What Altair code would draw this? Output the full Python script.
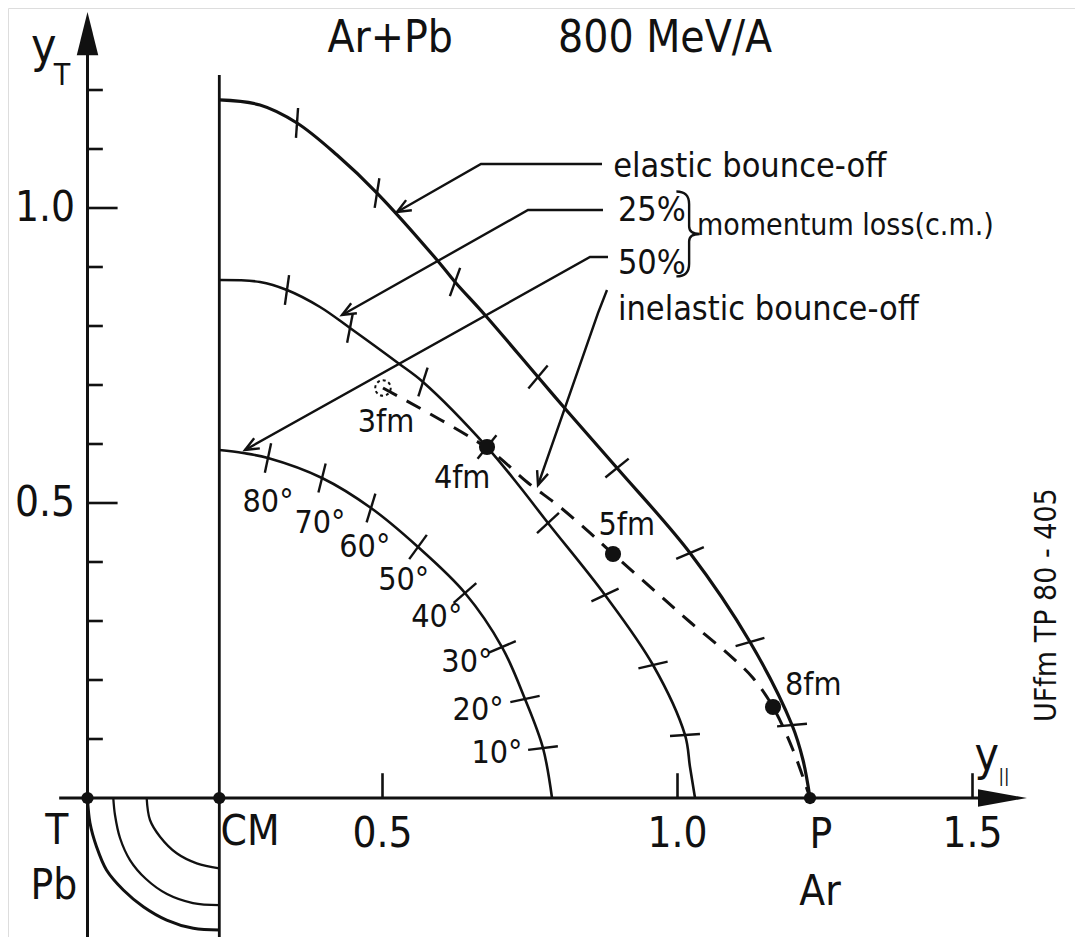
import math
import altair as alt
import pandas as pd

FONT = "'DejaVu Sans Condensed', 'DejaVu Sans', sans-serif"

# ---------------- data (rapidity units) ----------------
Y_CM = 0.2234          # centre-of-mass rapidity
Y_P = 1.2246           # projectile rapidity

elastic_x = [0.2234, 0.2924, 0.3551, 0.4229, 0.4907, 0.5924, 0.6229, 0.6737, 0.7636, 0.8144, 0.8975, 1.0212, 1.1229, 1.1941, 1.2127, 1.2246]
elastic_y = [1.1831, 1.1746, 1.1441, 1.0898, 1.0254, 0.9119, 0.8746, 0.8186, 0.7136, 0.6542, 0.5593, 0.4153, 0.2644, 0.1237, 0.0644, 0.0]

loss25_x = [0.2234, 0.2924, 0.3381, 0.3941, 0.4449, 0.5263, 0.5686, 0.6771, 0.7331, 0.7805, 0.8771, 0.9585, 1.0127, 1.0212, 1.0297]
loss25_y = [0.8780, 0.8746, 0.8610, 0.8322, 0.7966, 0.7373, 0.7051, 0.5949, 0.5271, 0.4661, 0.3441, 0.2254, 0.1068, 0.0525, 0.0]

loss50_x = [0.2234, 0.2636, 0.3059, 0.3975, 0.4805, 0.5602, 0.6398, 0.7025, 0.7415, 0.7720, 0.7873]
loss50_y = [0.5898, 0.5847, 0.5763, 0.5424, 0.4915, 0.4254, 0.3475, 0.2559, 0.1678, 0.0847, 0.0]

# angle ticks on each curve (80 deg ... 10 deg) and their drawn tilt
elastic_tick_x = [0.3551, 0.4907, 0.6229, 0.7636, 0.8975, 1.0212, 1.1229, 1.1941]
elastic_tick_y = [1.1441, 1.0254, 0.8746, 0.7136, 0.5593, 0.4153, 0.2644, 0.1237]
elastic_tick_tilt = [4, 9, 20, 40, 51, 67, 74, 85]

loss25_tick_x = [0.3381, 0.4449, 0.5686, 0.6771, 0.7805, 0.8771, 0.9585, 1.0127]
loss25_tick_y = [0.8610, 0.7966, 0.7051, 0.5949, 0.4661, 0.3441, 0.2254, 0.1068]
loss25_tick_tilt = [8, 11, 18, 39, 47, 65, 77, 86]

loss50_tick_x = [0.3059, 0.3975, 0.4805, 0.5602, 0.6398, 0.7025, 0.7415, 0.7720]
loss50_tick_y = [0.5763, 0.5424, 0.4915, 0.4254, 0.3475, 0.2559, 0.1678, 0.0847]
loss50_tick_tilt = [12, 14, 17, 36, 49, 67, 78, 83]
angle_labels = ["80°", "70°", "60°", "50°", "40°", "30°", "20°", "10°"]
angle_label_x = [0.306, 0.394, 0.470, 0.536, 0.592, 0.643, 0.662, 0.694]
angle_label_y = [0.502, 0.466, 0.425, 0.369, 0.307, 0.231, 0.149, 0.076]

# inelastic bounce-off (dashed) and impact parameters
inel_x = [0.5008, 0.6771, 0.7449, 0.8008, 0.8517, 0.8907, 0.9653, 1.0212, 1.0839, 1.1280, 1.1619, 1.1958, 1.2246]
inel_y = [0.6949, 0.5932, 0.5356, 0.4932, 0.4492, 0.4136, 0.3475, 0.2983, 0.2458, 0.2034, 0.1542, 0.0814, 0.0]
fm_dot_x = [0.6771, 0.8907, 1.1619]
fm_dot_y = [0.5949, 0.4136, 0.1542]
fm_open_x = [0.5008]
fm_open_y = [0.6949]
fm_labels = ["3fm", "4fm", "5fm", "8fm"]
fm_label_x = [0.506, 0.635, 0.914, 1.230]
fm_label_y = [0.637, 0.542, 0.463, 0.192]

# target-side quarter arcs (below the axis)
arc_outer_x = [0.0, 0.0042, 0.0153, 0.0322, 0.0607, 0.0946, 0.1342, 0.1793, 0.2234]
arc_outer_y = [0.0, -0.0424, -0.0825, -0.1220, -0.1559, -0.1842, -0.2068, -0.2208, -0.2237]
arc_mid_x = [0.0437, 0.0466, 0.0551, 0.0720, 0.0992, 0.1347, 0.1788, 0.2234]
arc_mid_y = [0.0, -0.0288, -0.0678, -0.1051, -0.1373, -0.1627, -0.1780, -0.1814]
arc_in_x = [0.1003, 0.1059, 0.1229, 0.1512, 0.1851, 0.2234]
arc_in_y = [0.0, -0.0373, -0.0656, -0.0937, -0.1107, -0.1192]

# leader lines of the annotations
lead_elastic_x = [0.8720, 0.6669, 0.5246]
lead_elastic_y = [1.0746, 1.0746, 0.9932]
lead_25_x = [0.8737, 0.7466, 0.4314]
lead_25_y = [0.9966, 0.9966, 0.8186]
lead_50_x = [0.8822, 0.8517, 0.2669]
lead_50_y = [0.9169, 0.9169, 0.5898]
lead_inel_x = [0.8805, 0.8653, 0.7636]
lead_inel_y = [0.8610, 0.8220, 0.5305]

y_ticks = [0.1, 0.2, 0.3, 0.4, 0.5, 0.6, 0.7, 0.8, 0.9, 1.0, 1.1, 1.2]
y_tick_labels = {0.5: "0.5", 1.0: "1.0"}
x_ticks = [0.5, 1.0, 1.5]
x_tick_labels = ["0.5", "1.0", "1.5"]

# ---------------- frame ----------------
X_MIN, X_MAX = -0.13475, 1.67373
Y_MIN, Y_MAX = -0.23559, 1.33898
W, H = 1067, 929
xs = alt.Scale(domain=[X_MIN, X_MAX], nice=False, zero=False)
ys = alt.Scale(domain=[Y_MIN, Y_MAX], nice=False, zero=False)


def X(f="x"):
    return alt.X(f"{f}:Q", scale=xs, axis=None)


def Y(f="y"):
    return alt.Y(f"{f}:Q", scale=ys, axis=None)


BLACK = "#111111"

# curves
rows = []
for name, xx, yy, sw in [("elastic", elastic_x, elastic_y, 3.2), ("25", loss25_x, loss25_y, 2.6),
                         ("50", loss50_x, loss50_y, 2.6), ("ao", arc_outer_x, arc_outer_y, 3.0),
                         ("am", arc_mid_x, arc_mid_y, 2.3), ("ai", arc_in_x, arc_in_y, 2.3)]:
    for i, (a, b) in enumerate(zip(xx, yy)):
        rows.append({"curve": name, "i": i, "x": a, "y": b, "sw": sw})
curves = pd.DataFrame(rows)
curve_layer = alt.Chart(curves).mark_line(color=BLACK, interpolate="catmull-rom").encode(
    x=X(), y=Y(), detail="curve:N", order="i:Q", strokeWidth=alt.StrokeWidth("sw:Q", scale=None))

# angle ticks
trows = []
for xx, yy, tt in [(elastic_tick_x, elastic_tick_y, elastic_tick_tilt),
                   (loss25_tick_x, loss25_tick_y, loss25_tick_tilt),
                   (loss50_tick_x, loss50_tick_y, loss50_tick_tilt)]:
    for a, b, t in zip(xx, yy, tt):
        trows.append({"x": a, "y": b, "ang": t % 360})
ticks = pd.DataFrame(trows)
tick_layer = alt.Chart(ticks).mark_point(shape="M0,-1L0,1", size=900, filled=False, strokeWidth=2.4,
                                         color=BLACK, opacity=1).encode(
    x=X(), y=Y(), angle=alt.Angle("ang:Q", scale=None))

# dashed inelastic line
inel = pd.DataFrame({"x": inel_x, "y": inel_y, "i": range(len(inel_x))})
inel_layer = alt.Chart(inel).mark_line(color=BLACK, strokeWidth=3, strokeDash=[16, 11],
                                       interpolate="catmull-rom").encode(x=X(), y=Y(), order="i:Q")

dots = pd.DataFrame({"x": fm_dot_x, "y": fm_dot_y})
dot_layer = alt.Chart(dots).mark_point(shape="circle", filled=True, size=260, color=BLACK, opacity=1).encode(x=X(), y=Y())
open_dot = pd.DataFrame({"x": fm_open_x, "y": fm_open_y})
open_layer = alt.Chart(open_dot).mark_point(shape="circle", filled=False, size=240, color=BLACK, opacity=1,
                                            strokeWidth=2, strokeDash=[3, 3]).encode(x=X(), y=Y())

# axis points T, CM, P
axpts = pd.DataFrame({"x": [0.0, Y_CM, Y_P], "y": [0.0, 0.0, 0.0]})
axpt_layer = alt.Chart(axpts).mark_point(shape="circle", filled=True, size=150, color=BLACK, opacity=1).encode(x=X(), y=Y())

# axes lines
axes = pd.DataFrame([
    {"x": 0.0, "x2": 0.0, "y": Y_MIN, "y2": 1.30, "sw": 3.0},
    {"x": Y_CM, "x2": Y_CM, "y": Y_MIN, "y2": 1.2254, "sw": 2.8},
    {"x": -0.048, "x2": 1.57, "y": 0.0, "y2": 0.0, "sw": 3.0},
])
axes_layer = alt.Chart(axes).mark_rule(color=BLACK).encode(
    x=X(), x2="x2:Q", y=Y(), y2="y2:Q", strokeWidth=alt.StrokeWidth("sw:Q", scale=None))

ytk = pd.DataFrame({"y": y_ticks, "x": [0.0] * len(y_ticks),
                    "x2": [0.051 if v in y_tick_labels else 0.026 for v in y_ticks]})
ytk_layer = alt.Chart(ytk).mark_rule(color=BLACK, strokeWidth=2.6).encode(x=X(), x2="x2:Q", y=Y())
xtk = pd.DataFrame({"x": x_ticks, "y": [0.0] * 3, "y2": [0.042] * 3})
xtk_layer = alt.Chart(xtk).mark_rule(color=BLACK, strokeWidth=2.6).encode(x=X(), y=Y(), y2="y2:Q")

# axis arrow heads
yarrow = pd.DataFrame({"x": [0.0], "y": [1.332]})
yarrow_layer = alt.Chart(yarrow).mark_point(shape="M0,0L0.25,1L-0.25,1Z", size=7400, filled=True,
                                            color=BLACK, opacity=1).encode(x=X(), y=Y())
xarrow = pd.DataFrame({"x": [1.5924], "y": [0.0]})
xarrow_layer = alt.Chart(xarrow).mark_point(shape="M0,0L-1,-0.18L-1,0.18Z", size=9600, filled=True,
                                            color=BLACK, opacity=1).encode(x=X(), y=Y())

# leader lines with arrow heads
lrows, hrows = [], []
for name, xx, yy in [("e", lead_elastic_x, lead_elastic_y), ("25", lead_25_x, lead_25_y),
                     ("50", lead_50_x, lead_50_y), ("in", lead_inel_x, lead_inel_y)]:
    for i, (a, b) in enumerate(zip(xx, yy)):
        lrows.append({"g": name, "i": i, "x": a, "y": b})
    dx, dy = xx[-1] - xx[-2], yy[-1] - yy[-2]
    hrows.append({"x": xx[-1], "y": yy[-1], "ang": math.degrees(math.atan2(dx, dy)) % 360})
leaders = pd.DataFrame(lrows)
leader_layer = alt.Chart(leaders).mark_line(color=BLACK, strokeWidth=2.4).encode(
    x=X(), y=Y(), detail="g:N", order="i:Q")
heads = pd.DataFrame(hrows)
head_layer = alt.Chart(heads).mark_point(shape="M-0.42,1L0,0L0.42,1", size=760, filled=False,
                                         strokeWidth=2.4, color=BLACK, opacity=1).encode(
    x=X(), y=Y(), angle=alt.Angle("ang:Q", scale=None))

# brace grouping 25% / 50%
brace = pd.DataFrame({"x": [1.0161], "y": [0.956]})
brace_layer = alt.Chart(brace).mark_point(
    shape="M-0.25,-1Q0.05,-1 0.05,-0.7L0.05,-0.18Q0.05,0 0.3,0Q0.05,0 0.05,0.18L0.05,0.7Q0.05,1 -0.25,1",
    size=7200, filled=False, strokeWidth=2.4, color=BLACK, opacity=1).encode(x=X(), y=Y())


def text_layer(rows, align, baseline, angle=None):
    df = pd.DataFrame(rows, columns=["t", "x", "y", "fs"])
    kw = dict(align=align, baseline=baseline, font=FONT, color=BLACK)
    if angle is not None:
        kw["angle"] = angle
    return alt.Chart(df).mark_text(**kw).encode(
        x=X(), y=Y(), text="t:N", size=alt.Size("fs:Q", scale=None))


center_mid = [
    ("Ar+Pb", 0.513, 1.287, 44),
    ("800 MeV/A", 0.979, 1.287, 44),
    ("T", -0.052, -0.056, 42),
    ("Pb", -0.057, -0.149, 42),
    ("CM", 0.2754, -0.058, 42),
    ("P", 1.2432, -0.063, 42),
    ("Ar", 1.2415, -0.159, 42),
    ("||", 1.5534, 0.036, 18),
]
for v, lab in y_tick_labels.items():
    center_mid.append((lab, -0.072, v, 42))
for v, lab in zip(x_ticks, x_tick_labels):
    center_mid.append((lab, v, -0.061, 42))
for lab, a, b in zip(fm_labels, fm_label_x, fm_label_y):
    center_mid.append((lab, a, b, 32))
for lab, a, b in zip(angle_labels, angle_label_x, angle_label_y):
    center_mid.append((lab, a, b, 32))

center_base = [
    ("y", -0.074, 1.2475, 48),
    ("T", -0.0432, 1.2085, 30),
    ("y", 1.524, 0.0475, 46),
]
left_base = [
    ("elastic bounce-off", 0.891, 1.0525, 34),
    ("25%", 0.899, 0.978, 34),
    ("50%", 0.899, 0.888, 34),
    ("momentum loss(c.m.)", 1.033, 0.954, 30),
    ("inelastic bounce-off", 0.899, 0.810, 34),
]
vertical = [("UFfm TP 80 - 405", 1.6263, 0.327, 30)]

chart = alt.layer(
    curve_layer, inel_layer, tick_layer, leader_layer, head_layer, brace_layer,
    axes_layer, ytk_layer, xtk_layer, yarrow_layer, xarrow_layer,
    axpt_layer, dot_layer, open_layer,
    text_layer(center_mid, "center", "middle"),
    text_layer(center_base, "center", "alphabetic"),
    text_layer(left_base, "left", "alphabetic"),
    text_layer(vertical, "center", "middle", angle=270),
).properties(width=W, height=H, autosize="none", padding=0).configure_view(stroke=None).configure(
    background="white")

chart.save("out.html", embed_options={"renderer": "svg", "actions": False})
